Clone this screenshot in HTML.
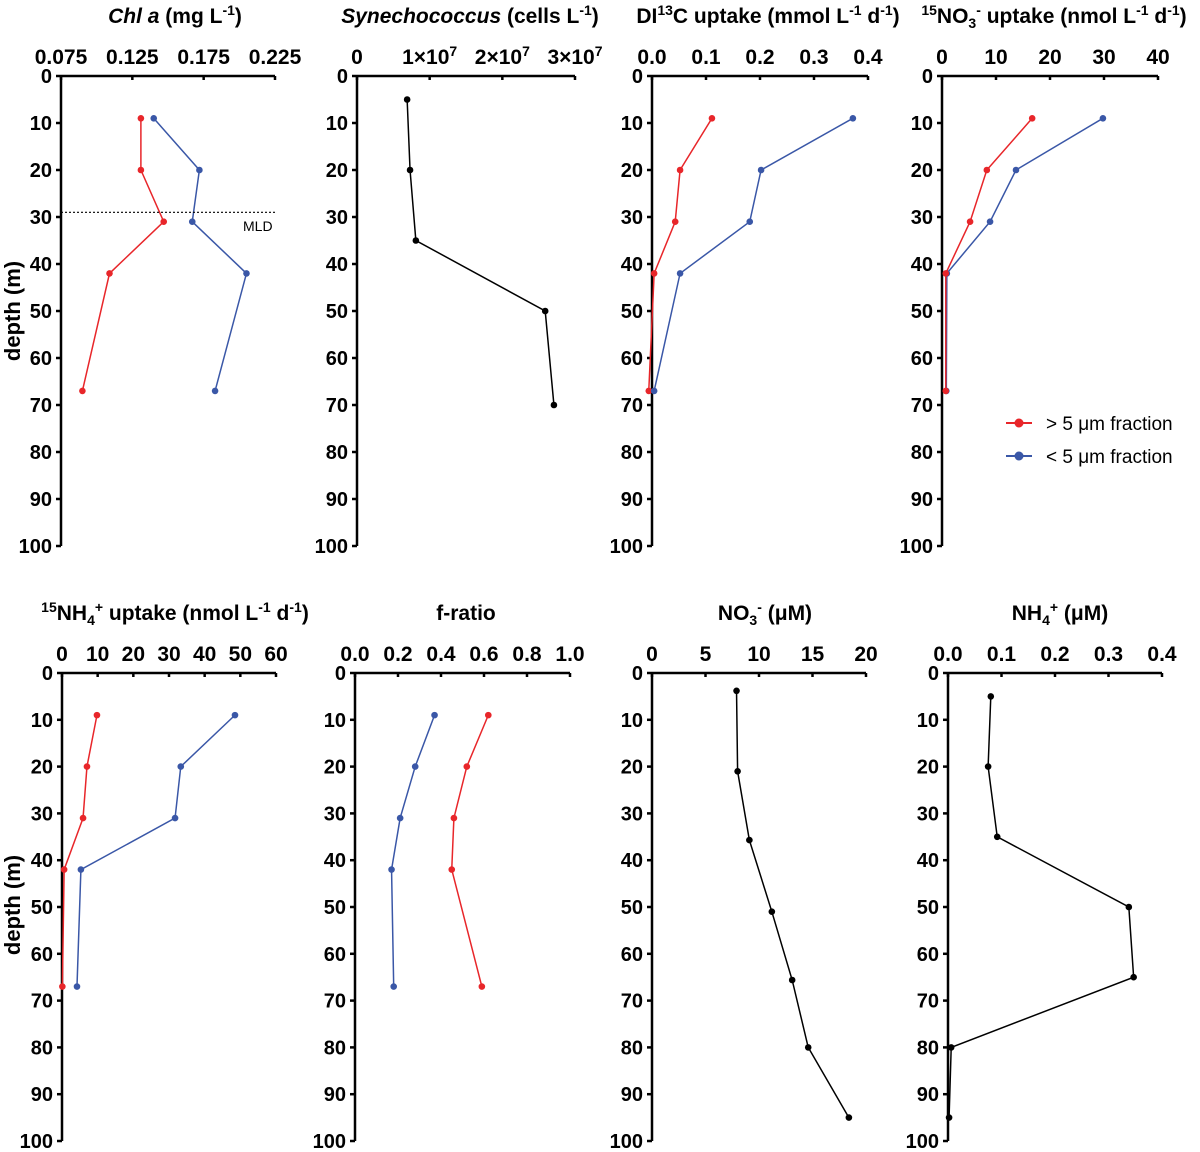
<!DOCTYPE html>
<html><head><meta charset="utf-8"><style>
body{margin:0;background:#fff}
svg{display:block;font-family:"Liberation Sans",Arial,sans-serif;font-weight:bold}
</style></head><body>
<svg id="c" width="1200" height="1152" viewBox="0 0 1200 1152"></svg>
<script>
const depthTicks=[0,10,20,30,40,50,60,70,80,90,100];
const chlDepth=[9,20,31,42,67];
const chlRed=[0.131,0.131,0.147,0.109,0.090];
const chlBlue=[0.140,0.172,0.167,0.205,0.183];
const synDepth=[5,20,35,50,70];
const synVals=[0.69e7,0.73e7,0.81e7,2.59e7,2.71e7];
const dicDepth=[9,20,31,42,67];
const dicRed=[0.111,0.052,0.043,0.004,-0.006];
const dicBlue=[0.372,0.202,0.181,0.052,0.004];
const no3uDepth=[9,20,31,42,67];
const no3uRed=[16.7,8.3,5.2,0.7,0.7];
const no3uBlue=[29.8,13.7,8.9,0.9,0.8];
const nh4uDepth=[9,20,31,42,67];
const nh4uRed=[9.8,7.0,5.9,0.6,0.1];
const nh4uBlue=[48.5,33.3,31.7,5.3,4.2];
const fDepth=[9,20,31,42,67];
const fRed=[0.62,0.52,0.46,0.45,0.59];
const fBlue=[0.37,0.28,0.21,0.17,0.18];
const no3Depth=[3.8,21,35.7,51,65.6,80,95];
const no3Vals=[7.9,8.0,9.1,11.2,13.1,14.6,18.4];
const nh4Depth=[5,20,35,50,65,80,95];
const nh4Vals=[0.080,0.075,0.092,0.338,0.347,0.006,0.002];
const chlTicks=[0.075,0.125,0.175,0.225];
const synTicks=[0,1e7,2e7,3e7];
const synTickLabels=["0","1×10|7","2×10|7","3×10|7"];
const dicTicks=[0,0.1,0.2,0.3,0.4];
const no3uTicks=[0,10,20,30,40];
const nh4uTicks=[0,10,20,30,40,50,60];
const fTicks=[0,0.2,0.4,0.6,0.8,1.0];
const no3Ticks=[0,5,10,15,20];
const nh4Ticks=[0,0.1,0.2,0.3,0.4];
const RED="#e8262a",BLUE="#3a57a7",BLACK="#000";
const svg=document.getElementById('c');
const NS="http://www.w3.org/2000/svg";
function mk(tag,attrs,parent){const e=document.createElementNS(NS,tag);for(const k in attrs)e.setAttribute(k,attrs[k]);(parent||svg).appendChild(e);return e;}
function panel(o){
  const g=mk('g',{});
  
  
  const sx=v=>o.x0+(v-o.d0)/(o.d1-o.d0)*(o.x1-o.x0);
  const sy=d=>o.y0+d*(o.y1-o.y0)/100;
  const ax=mk('line',{x1:o.x0,y1:o.y0,x2:o.x1,y2:o.y0,stroke:'#000','stroke-width':2.5},g);
  
  
  const ay=mk('line',{x1:o.x0,y1:o.y0,x2:o.x0,y2:o.y1,stroke:'#000','stroke-width':2.5},g);
  
  
  depthTicks.forEach(d=>{
    mk('line',{x1:o.x0-5,y1:sy(d),x2:o.x0,y2:sy(d),stroke:'#000','stroke-width':2.5},g);
    const t=mk('text',{x:o.x0-9,y:sy(d)+7,'text-anchor':'end','font-size':20},g);
    t.textContent=d;
    
    
  });
  o.ticks.forEach((v,i)=>{
    mk('line',{x1:sx(v),y1:o.y0,x2:sx(v),y2:o.y0+4,stroke:'#000','stroke-width':2.5},g);
    const t=mk('text',{x:sx(v),y:o.y0-12,'text-anchor':'middle','font-size':21},g);
    const lab=o.labels?o.labels[i]:o.fmt(v);
    const parts=lab.split('|');
    t.textContent=parts[0];
    if(parts[1]){const s=mk('tspan',{dy:-8,'font-size':14},t);s.textContent=parts[1];}
    
    
  });
  const tt=mk('text',{x:o.tx,y:o.y0-53,'text-anchor':'middle','font-size':21},g);
  tt.innerHTML=o.title;
  
  
  o.series.forEach(s=>{
    const pts=s.vals.map((v,i)=>sx(v)+','+sy(s.depth[i])).join(' ');
    const pl=mk('polyline',{points:pts,fill:'none',stroke:s.color,'stroke-width':1.5},g);
    
    
    s.vals.forEach((v,i)=>{
      const c=mk('circle',{cx:sx(v),cy:sy(s.depth[i]),r:3.3,fill:s.color},g);
      
      
    });
  });
  return {sx,sy,g};
}
const f3=v=>v.toFixed(3), f1=v=>v.toFixed(1), f0=v=>String(v);
const T=76,B=546,T2=673,B2=1141;
const p1=panel({name:'chl-a-panel',x0:61,x1:275,d0:0.075,d1:0.225,y0:T,y1:B,ticks:chlTicks,fmt:f3,tx:175,
 title:'<tspan font-style="italic">Chl a</tspan> (mg L<tspan dy="-8" font-size="14">-1</tspan><tspan dy="8">)</tspan>',
 series:[{name:'chl-red',depth:chlDepth,vals:chlRed,color:RED},{name:'chl-blue',depth:chlDepth,vals:chlBlue,color:BLUE}]});
const mld=mk('line',{x1:61,y1:p1.sy(29),x2:275,y2:p1.sy(29),stroke:'#000','stroke-width':1.2,'stroke-dasharray':'2,2'});


const mt=mk('text',{x:243,y:231,'font-size':14,'font-weight':'normal'});mt.textContent='MLD';


panel({name:'synechococcus-panel',x0:357,x1:575,d0:0,d1:3e7,y0:T,y1:B,ticks:synTicks,labels:synTickLabels,tx:470,
 title:'<tspan font-style="italic">Synechococcus</tspan> (cells L<tspan dy="-8" font-size="14">-1</tspan><tspan dy="8">)</tspan>',
 series:[{name:'syn',depth:synDepth,vals:synVals,color:BLACK}]});
panel({name:'dic-uptake-panel',x0:652,x1:868,d0:0,d1:0.4,y0:T,y1:B,ticks:dicTicks,fmt:f1,tx:768,
 title:'DI<tspan dy="-8" font-size="14">13</tspan><tspan dy="8">C uptake (mmol L</tspan><tspan dy="-8" font-size="14">-1</tspan><tspan dy="8"> d</tspan><tspan dy="-8" font-size="14">-1</tspan><tspan dy="8">)</tspan>',
 series:[{name:'dic-red',depth:dicDepth,vals:dicRed,color:RED},{name:'dic-blue',depth:dicDepth,vals:dicBlue,color:BLUE}]});
panel({name:'no3-uptake-panel',x0:942,x1:1158,d0:0,d1:40,y0:T,y1:B,ticks:no3uTicks,fmt:f0,tx:1054,
 title:'<tspan dy="-8" font-size="14">15</tspan><tspan dy="8">NO</tspan><tspan dy="5" font-size="14">3</tspan><tspan dy="-13" font-size="14">-</tspan><tspan dy="8"> uptake (nmol L</tspan><tspan dy="-8" font-size="14">-1</tspan><tspan dy="8"> d</tspan><tspan dy="-8" font-size="14">-1</tspan><tspan dy="8">)</tspan>',
 series:[{name:'no3u-blue',depth:no3uDepth,vals:no3uBlue,color:BLUE},{name:'no3u-red',depth:no3uDepth,vals:no3uRed,color:RED}]});
panel({name:'nh4-uptake-panel',x0:62,x1:276,d0:0,d1:60,y0:T2,y1:B2,ticks:nh4uTicks,fmt:f0,tx:175,
 title:'<tspan dy="-8" font-size="14">15</tspan><tspan dy="8">NH</tspan><tspan dy="5" font-size="14">4</tspan><tspan dy="-13" font-size="14">+</tspan><tspan dy="8"> uptake (nmol L</tspan><tspan dy="-8" font-size="14">-1</tspan><tspan dy="8"> d</tspan><tspan dy="-8" font-size="14">-1</tspan><tspan dy="8">)</tspan>',
 series:[{name:'nh4u-red',depth:nh4uDepth,vals:nh4uRed,color:RED},{name:'nh4u-blue',depth:nh4uDepth,vals:nh4uBlue,color:BLUE}]});
panel({name:'f-ratio-panel',x0:355,x1:570,d0:0,d1:1,y0:T2,y1:B2,ticks:fTicks,fmt:f1,tx:466,
 title:'f-ratio',
 series:[{name:'f-red',depth:fDepth,vals:fRed,color:RED},{name:'f-blue',depth:fDepth,vals:fBlue,color:BLUE}]});
panel({name:'no3-panel',x0:652,x1:866,d0:0,d1:20,y0:T2,y1:B2,ticks:no3Ticks,fmt:f0,tx:765,
 title:'NO<tspan dy="5" font-size="14">3</tspan><tspan dy="-13" font-size="14">-</tspan><tspan dy="8"> (μM)</tspan>',
 series:[{name:'no3',depth:no3Depth,vals:no3Vals,color:BLACK}]});
panel({name:'nh4-panel',x0:948,x1:1162,d0:0,d1:0.4,y0:T2,y1:B2,ticks:nh4Ticks,fmt:f1,tx:1060,
 title:'NH<tspan dy="5" font-size="14">4</tspan><tspan dy="-13" font-size="14">+</tspan><tspan dy="8"> (μM)</tspan>',
 series:[{name:'nh4',depth:nh4Depth,vals:nh4Vals,color:BLACK}]});
[311,905].forEach((cy,i)=>{
  const t=mk('text',{x:20,y:cy,'text-anchor':'middle','font-size':22,transform:`rotate(-90 20 ${cy})`});
  t.textContent='depth (m)';
  
  
});
[[423,RED,'> 5 μm fraction'],[456,BLUE,'< 5 μm fraction']].forEach(([y,c,l])=>{
  const g=mk('g',{});
  
  
  mk('line',{x1:1006,y1:y,x2:1032,y2:y,stroke:c,'stroke-width':2},g);
  mk('circle',{cx:1019,cy:y,r:4.5,fill:c},g);
  const t=mk('text',{x:1046,y:y+7,'font-size':19,'font-weight':'normal'},g);
  t.textContent=l;
});
</script>
</body></html>
